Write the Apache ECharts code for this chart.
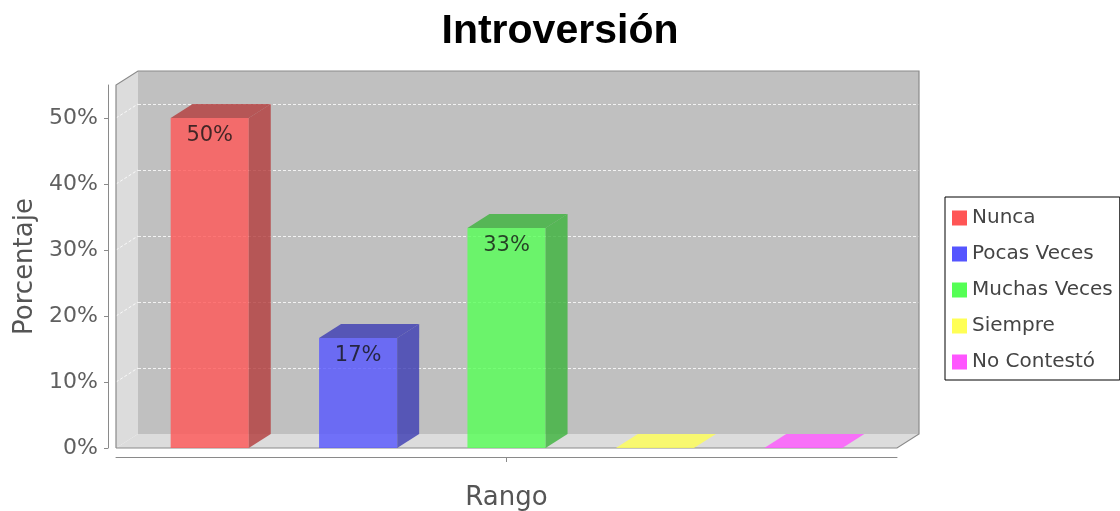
<!DOCTYPE html>
<html>
<head>
<meta charset="utf-8">
<script src="https://cdn.jsdelivr.net/npm/echarts@6/dist/echarts.min.js"></script>
<style>
  html, body { margin: 0; padding: 0; background: #fff; }
  #chart { width: 1120px; height: 511px; }
</style>
</head>
<body>
<div id="chart"></div>
<script>
// datos del gráfico
const categories = ['Nunca', 'Pocas Veces', 'Muchas Veces', 'Siempre', 'No Contestó']
const values = [50, 16.67, 33.33, 0, 0]
const yTicks = [0, 10, 20, 30, 40, 50]
const colors = ['#ff5555', '#5555ff', '#55ff55', '#ffff55', '#ff55ff']

const DX = 22 // profundidad 3D
const DY = 14
const FONT = 'DejaVu Sans'

function rgba(hex, k, a) {
  const n = parseInt(hex.slice(1), 16)
  const r = Math.round(((n >> 16) & 255) * k)
  const g = Math.round(((n >> 8) & 255) * k)
  const b = Math.round((n & 255) * k)
  return 'rgba(' + r + ',' + g + ',' + b + ',' + a + ')'
}

const chart = echarts.init(document.getElementById('chart'))

// paredes, suelo y lineas de la izquierda
function renderFrame(params, api) {
  const cs = params.coordSys
  const x0 = cs.x, x1 = cs.x + cs.width
  const yT = cs.y, yB = cs.y + cs.height
  const children = [
    {
      type: 'polygon',
      shape: { points: [[x0, yT], [x0 + DX, yT - DY], [x0 + DX, yB - DY], [x0, yB]] },
      style: { fill: '#dcdcdc' }
    },
    {
      type: 'polygon',
      shape: { points: [[x0, yB], [x1, yB], [x1 + DX, yB - DY], [x0 + DX, yB - DY]] },
      style: { fill: '#dcdcdc' }
    }
  ]
  yTicks.forEach(function (v) {
    if (v === 0) return
    const y = api.coord([0, v])[1]
    children.push({
      type: 'line',
      shape: { x1: x0, y1: y, x2: x0 + DX, y2: y - DY },
      style: { stroke: 'rgba(255,255,255,0.8)', lineWidth: 1, lineDash: [3, 2] }
    })
  })
  // marca central del eje de categorias
  const cx = api.coord([0, 0])[0]
  children.push({
    type: 'line',
    shape: { x1: cx, y1: yB + 9, x2: cx, y2: yB + 14 },
    style: { stroke: '#8a8a8a', lineWidth: 1 }
  })
  children.push({
    type: 'polyline',
    shape: {
      points: [[x0, yB], [x0, yT], [x0 + DX, yT - DY], [x1 + DX, yT - DY],
        [x1 + DX, yB - DY], [x1, yB], [x0, yB]]
    },
    style: { stroke: '#8a8a8a', lineWidth: 1.2, fill: null }
  })
  return { type: 'group', children: children }
}

function makeBar(idx) {
  return function (params, api) {
    const band = api.size([1, 0])[0]
    const center = api.coord([api.value(0), 0])
    const w = band * 0.1
    const cx = center[0] + (idx - 2) * band * 0.19
    const xl = cx - w / 2, xr = cx + w / 2
    const yB = center[1]
    const v = api.value(1)
    const yT = api.coord([api.value(0), v])[1]
    const front = rgba(colors[idx], 1, 0.8)
    const dark = rgba(colors[idx], 0.7, 0.8)
    const children = []
    if (v > 0) {
      children.push({
        type: 'rect',
        shape: { x: xl, y: yT, width: w, height: yB - yT },
        style: { fill: front }
      })
      children.push({
        type: 'polygon',
        shape: { points: [[xr, yT], [xr + DX, yT - DY], [xr + DX, yB - DY], [xr, yB]] },
        style: { fill: dark }
      })
      children.push({
        type: 'polygon',
        shape: { points: [[xl, yT], [xl + DX, yT - DY], [xr + DX, yT - DY], [xr, yT]] },
        style: { fill: dark }
      })
      children.push({
        type: 'text',
        style: {
          text: Math.round(v) + '%',
          x: cx, y: yT + 7,
          align: 'center', verticalAlign: 'top',
          fill: 'rgba(20,20,20,0.8)',
          fontSize: 21, fontFamily: FONT
        }
      })
    } else {
      children.push({
        type: 'polygon',
        shape: { points: [[xl, yT], [xl + DX, yT - DY], [xr + DX, yT - DY], [xr, yT]] },
        style: { fill: front }
      })
    }
    return { type: 'group', children: children }
  }
}

const barSeries = categories.map(function (name, i) {
  return {
    name: name,
    type: 'custom',
    xAxisIndex: 0,
    yAxisIndex: 0,
    z: 3,
    itemStyle: { color: colors[i] },
    encode: { x: 0, y: 1 },
    data: [[0, values[i]]],
    renderItem: makeBar(i)
  }
})

chart.setOption({
  animation: false,
  title: {
    text: 'Introversión',
    left: 'center',
    top: 6,
    textStyle: { fontFamily: 'Liberation Sans', fontWeight: 'bold', fontSize: 41, color: '#000' }
  },
  legend: {
    orient: 'vertical',
    left: 945,
    top: 197,
    padding: [11, 7, 8, 7],
    itemWidth: 15,
    itemHeight: 15,
    itemGap: 16,
    icon: 'rect',
    borderColor: '#000',
    borderWidth: 1,
    backgroundColor: '#fff',
    data: categories,
    textStyle: { fontFamily: FONT, fontSize: 20, color: '#444' }
  },
  grid: [
    { left: 116, top: 85, width: 781, height: 363, outerBoundsMode: 'none' },
    { left: 116 + DX, top: 85 - DY, width: 781, height: 363, outerBoundsMode: 'none', show: true, backgroundColor: '#c0c0c0', borderWidth: 0 }
  ],
  xAxis: [
    {
      type: 'category',
      gridIndex: 0,
      data: [''],
      offset: 9,
      name: 'Rango',
      nameLocation: 'middle',
      nameGap: 28,
      nameTextStyle: { fontFamily: FONT, fontSize: 26, color: '#555' },
      axisLine: { onZero: false, lineStyle: { color: '#8a8a8a' } },
      axisTick: { show: false },
      axisLabel: { show: false }
    },
    { type: 'category', gridIndex: 1, data: [''], show: false }
  ],
  yAxis: [
    {
      type: 'value',
      gridIndex: 0,
      min: 0,
      max: 55,
      interval: 10,
      offset: 8,
      name: 'Porcentaje',
      nameLocation: 'middle',
      nameGap: 70,
      nameTextStyle: { fontFamily: FONT, fontSize: 26, color: '#555' },
      axisLine: { show: true, lineStyle: { color: '#8a8a8a' } },
      axisTick: { show: true, length: 4, customValues: yTicks, lineStyle: { color: '#8a8a8a' } },
      axisLabel: {
        margin: 10,
        customValues: yTicks,
        formatter: '{value}%',
        fontFamily: FONT, fontSize: 22, color: '#606060'
      },
      splitLine: { show: false }
    },
    {
      type: 'value',
      gridIndex: 1,
      min: 0,
      max: 55,
      interval: 10,
      axisLine: { show: false },
      axisTick: { show: false },
      axisLabel: { show: false },
      splitLine: { show: true, showMaxLine: false, lineStyle: { color: 'rgba(255,255,255,0.8)', type: [3, 2] } }
    }
  ],
  series: [
    {
      name: 'marco',
      type: 'custom',
      xAxisIndex: 0,
      yAxisIndex: 0,
      silent: true,
      z: 1,
      data: [[0, 0]],
      renderItem: renderFrame
    }
  ].concat(barSeries)
})
</script>
</body>
</html>
